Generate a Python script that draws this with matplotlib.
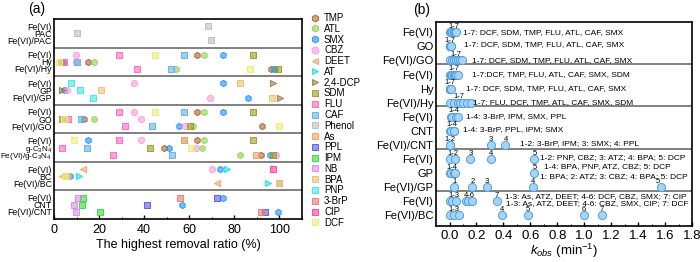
import matplotlib
matplotlib.use("Agg")
import matplotlib.pyplot as plt
from matplotlib.lines import Line2D
from matplotlib.colors import to_rgba

plt.rcParams['font.family'] = ['Liberation Sans', 'DejaVu Sans']
plt.rcParams['mathtext.fontset'] = 'custom'
plt.rcParams['mathtext.rm'] = 'Liberation Sans'
plt.rcParams['mathtext.it'] = 'Liberation Sans:italic'

# ---------------- panel (a) data ----------------
groups_a = ["PAC", "Hy", "GP", "GO", "g-C$_3$N$_4$", "BC", "CNT"]
# rows: index = group*3 + k (k: 0 Fe(VI), 1 support, 2 Fe(VI)/support)
tmp = [(3, 63.3), (4, 15.0), (5, 96.3), (9, 63.3), (10, 13.2), (11, 92.3),
       (12, 63.3), (13, 48.6), (14, 91.9)]
atl = [(3, 66.5), (4, 17.9), (5, 54.0), (5, 98.0), (9, 66.5), (10, 17.9), (11, 61.5),
       (12, 66.4), (13, 65.8), (14, 82.4)]
smx = [(3, 74.8), (4, 4.0), (5, 97.6), (6, 74.8), (7, 4.4), (8, 86.2), (9, 74.8),
       (11, 55.5), (12, 15.1), (13, 50.8), (14, 96.0), (15, 73.6), (16, 7.1),
       (18, 74.8), (19, 57.0), (20, 99.4)]
cbz = [(3, 9.8), (4, 9.8), (6, 35.7), (7, 5.9), (8, 69.3), (9, 35.7), (10, 38.4),
       (11, 57.9), (12, 38.4), (13, 63.0), (14, 98.4), (15, 70.2)]
deet = [(15, 13.0), (16, 3.4), (17, 72.1)]
at = [(15, 76.7), (16, 11.3), (17, 95.0)]
dcp = [(6, 97.0), (7, 3.4), (8, 100.3)]
sdm = [(3, 88.4), (4, 3.0), (5, 99.2), (9, 88.4), (10, 3.4), (11, 60.5),
       (12, 88.4), (13, 42.8), (14, 97.3)]
flu = [(3, 29.0), (4, 4.4), (5, 36.9), (9, 29.0), (10, 6.2), (11, 31.7),
       (12, 29.0), (13, 3.7), (14, 26.4)]
caf = [(3, 57.8), (4, 10.1), (5, 52.0), (9, 57.8), (10, 12.0), (11, 43.3),
       (13, 14.7), (14, 52.4)]
phenol = [(0, 68.3), (1, 10.4), (2, 69.8), (12, 57.8), (17, 99.6)]
arsenic = [(12, 57.8), (14, 89.8)]
ppl = [(18, 72.3), (19, 41.2), (20, 93.5)]
ipm = [(18, 12.9), (19, 12.3), (20, 20.4)]
nb = [(18, 10.7), (19, 9.0), (20, 9.6)]
bpa = [(6, 82.4), (7, 20.9), (8, 96.9), (16, 5.9), (17, 99.6)]
pnp = [(6, 7.7), (7, 11.4), (8, 17.2)]
brp = [(18, 55.8), (20, 91.8)]
cip = [(15, 97.0)]
dcf = [(3, 44.7), (4, 2.2), (5, 87.0), (9, 44.7), (10, 4.6), (11, 100.0),
       (12, 8.9), (13, 60.7), (16, 4.9)]

pollutants = [
    ("TMP", tmp, "h", "#b0602a"),
    ("ATL", atl, "h", "#8fd14f"),
    ("SMX", smx, "h", "#1e90ff"),
    ("CBZ", cbz, "o", "#ff9ad8"),
    ("DEET", deet, "<", "#f4a460"),
    ("AT", at, ">", "#10e0ee"),
    ("2,4-DCP", dcp, ">", "#a07840"),
    ("SDM", sdm, "s", "#9a9a22"),
    ("FLU", flu, "s", "#ff66bb"),
    ("CAF", caf, "s", "#5cb0ee"),
    ("Phenol", phenol, "s", "#bdbdbd"),
    ("As", arsenic, "s", "#f0a060"),
    ("PPL", ppl, "s", "#5656e6"),
    ("IPM", ipm, "s", "#36d836"),
    ("NB", nb, "s", "#dd88ee"),
    ("BPA", bpa, "s", "#e8c070"),
    ("PNP", pnp, "s", "#40e4e4"),
    ("3-BrP", brp, "s", "#f07474"),
    ("CIP", cip, "s", "#ff3d9a"),
    ("DCF", dcf, "s", "#ecec70"),
]

# ---------------- panel (b) data ----------------
rows_b = ["Fe(VI)", "GO", "Fe(VI)/GO", "Fe(VI)", "Hy", "Fe(VI)/Hy",
          "Fe(VI)", "CNT", "Fe(VI)/CNT", "Fe(VI)", "GP", "Fe(VI)/GP",
          "Fe(VI)", "Fe(VI)/BC"]
k_rows = [
    [0.0, 0.01, 0.02, 0.03, 0.03, 0.04, 0.05],
    [0.0, 0.0, 0.0, 0.005, 0.005, 0.01, 0.01],
    [0.0, 0.02, 0.03, 0.05, 0.06, 0.08, 0.09],
    [0.0, 0.01, 0.02, 0.03, 0.04, 0.05, 0.06],
    [0.0, 0.0, 0.0, 0.0, 0.005, 0.005, 0.01],
    [0.0, 0.03, 0.06, 0.08, 0.10, 0.13, 0.16],
    [0.01, 0.02, 0.05, 0.06],
    [0.0, 0.01, 0.03, 0.035],
    [0.0, 0.005, 0.31, 0.41],
    [0.0, 0.04, 0.155, 0.31, 0.63],
    [0.0, 0.01, 0.03, 0.04, 0.63],
    [0.035, 0.17, 0.28, 0.62, 1.57],
    [0.0, 0.02, 0.05, 0.12, 0.14, 0.17, 0.35],
    [0.0, 0.035, 0.07, 0.39, 0.585, 1.0, 1.13],
]
# number tags above markers: (row, x, text)
tags_b = [(0, 0.03, "1-7"), (1, 0.0, "1-7"), (2, 0.05, "1-7"),
          (3, 0.03, "1-7"), (4, 0.0, "1-7"), (5, 0.07, "1-7"),
          (6, 0.035, "1-4"), (7, 0.02, "1-4"), (8, 0.0, "1-2"), (8, 0.31, "3"), (8, 0.42, "4"),
          (9, 0.025, "1-2"), (9, 0.155, "3"), (9, 0.31, "4"), (9, 0.63, "5"),
          (10, 0.02, "1-4"), (10, 0.63, "5"),
          (11, 0.035, "1"), (11, 0.17, "2"), (11, 0.28, "3"), (11, 0.62, "4"), (11, 1.55, "5"),
          (12, 0.03, "1-3"), (12, 0.145, "4-6"), (12, 0.35, "7"),
          (13, 0.035, "1-3"), (13, 0.39, "4"), (13, 0.585, "5"), (13, 1.0, "6"), (13, 1.13, "7")]
notes_b = [
    (0, 0.10, 0.0, "1-7: DCF, SDM, TMP, FLU, ATL, CAF, SMX"),
    (1, 0.105, -0.1, "1-7: DCF, SDM, TMP, FLU, ATL, CAF, SMX"),
    (2, 0.165, 0.0, "1-7: DCF, SDM, TMP, FLU, ATL, CAF, SMX"),
    (3, 0.17, 0.0, "1-7:DCF, TMP, FLU, ATL, CAF, SMX, SDM"),
    (4, 0.12, 0.0, "1-7: DCF, SDM, TMP, FLU, ATL, CAF, SMX"),
    (5, 0.175, 0.0, "1-7: FLU, DCF, TMP, ATL, CAF, SMX, SDM"),
    (6, 0.12, 0.0, "1-4: 3-BrP, IPM, SMX, PPL"),
    (7, 0.10, -0.1, "1-4: 3-BrP, PPL, IPM; SMX"),
    (8, 0.52, -0.1, "1-2: 3-BrP, IPM; 3: SMX; 4: PPL"),
    (9, 0.67, -0.13, "1-2: PNP, CBZ; 3: ATZ; 4: BPA; 5: DCP"),
    (10, 0.70, -0.47, "1-4: BPA, PNP, ATZ, CBZ; 5: DCP"),
    (11, 0.67, -0.75, "1: BPA; 2: ATZ; 3: CBZ; 4: BPA; 5: DCP"),
    (12, 0.41, -0.37, "1-3: As, ATZ, DEET; 4-6: DCF, CBZ, SMX; 7: CIP"),
    (13, 0.42, -0.87, "1-3: As, ATZ, DEET; 4-6: CBZ, SMX, CIP; 7: DCF"),
]

fig = plt.figure(figsize=(7, 2.62), dpi=100)

# ---------------- panel (a) ----------------
ax1 = fig.add_axes([0.0771, 0.1641, 0.3543, 0.7634])
for name, pts, mk, col in pollutants:
    ys = [(r // 3) * 4 + r % 3 + 1 for r, v in pts]
    xs = [v for r, v in pts]
    ax1.scatter(xs, ys, s=20, marker=mk, facecolor=to_rgba(col, 0.6),
                edgecolor=to_rgba(col, 0.9), linewidth=0.7, zorder=3)

for g in range(1, 7):
    ax1.axhline(g * 4, color="#808080", lw=1.4, zorder=1)

ylabels_a = []
yticks_a = []
for i, g in enumerate(groups_a):
    for k, lab in enumerate(["Fe(VI)", g, "Fe(VI)/" + g]):
        yticks_a.append(i * 4 + k + 1)
        ylabels_a.append(lab)
ax1.set_yticks(yticks_a)
ax1.set_yticklabels(ylabels_a, fontsize=6.3)
for t in ax1.get_yticklabels():
    if "C$_3$" in t.get_text():
        t.set_fontsize(5.8)
ax1.tick_params(axis="y", length=0, pad=1.5)
ax1.set_ylim(28, 0)
ax1.set_xlim(0, 110)
ax1.set_xticks(range(0, 101, 20))
ax1.set_xticks(range(10, 111, 20), minor=True)
ax1.tick_params(axis="x", direction="in", labelsize=9, length=3, width=1)
ax1.tick_params(axis="x", which="minor", direction="in", length=1.5, width=0.8)
ax1.set_xlabel("The highest removal ratio (%)", fontsize=9, labelpad=2)
for s in ax1.spines.values():
    s.set_linewidth(1.2)
fig.text(0.052, 0.965, "(a)", fontsize=10, ha="center", va="center")

handles = [Line2D([], [], linestyle="none", marker=mk, markersize=5,
                  markerfacecolor=to_rgba(col, 0.6), markeredgecolor=to_rgba(col, 0.9),
                  markeredgewidth=0.7)
           for name, pts, mk, col in pollutants]
ax1.legend(handles, [p[0] for p in pollutants], loc="upper left",
           bbox_to_anchor=(1.03, 1.035), frameon=False, fontsize=7,
           labelspacing=0.08, handlelength=1.0, handletextpad=0.4, borderaxespad=0,
           borderpad=0.1)

# ---------------- panel (b) ----------------
ax2 = fig.add_axes([0.6229, 0.1374, 0.3657, 0.7798])
ypos_b = [(i // 3) * 3 + i % 3 + 0.75 for i in range(len(rows_b))]
for i, ks in enumerate(k_rows):
    ax2.scatter(ks, [ypos_b[i]] * len(ks), s=34, facecolor="#a6d4f7",
                edgecolor="#4f9fe0", linewidth=0.7, zorder=3)
for r, x, t in tags_b:
    ax2.text(x, ypos_b[r] - 0.42, t, fontsize=5.5, ha="center", va="center")
for r, x, dy, t in notes_b:
    ax2.text(x, ypos_b[r] + dy, t, fontsize=6, ha="left", va="center")
for g in range(1, 5):
    ax2.axhline(g * 3, color="#808080", lw=1.4, zorder=1)
ax2.set_yticks(ypos_b)
ax2.set_yticklabels(rows_b, fontsize=8)
ax2.tick_params(axis="y", length=0, pad=2)
ax2.set_ylim(14.5, 0)
ax2.set_xlim(-0.1, 1.8)
ax2.set_xticks([0.0, 0.2, 0.4, 0.6, 0.8, 1.0, 1.2, 1.4, 1.6, 1.8])
ax2.set_xticklabels(["0.0", "0.2", "0.4", "0.6", "0.8", "1.0", "1.2", "1.4", "1.6", "1.8"])
ax2.set_xticks([0.1, 0.3, 0.5, 0.7, 0.9, 1.1, 1.3, 1.5, 1.7], minor=True)
ax2.tick_params(axis="x", direction="in", labelsize=9.5, length=3, width=1, pad=3)
ax2.tick_params(axis="x", which="minor", direction="in", length=1.5, width=0.8)
ax2.set_xlabel("$k_{obs}$ (min$^{-1}$)", fontsize=9.5, labelpad=0)
for s in ax2.spines.values():
    s.set_linewidth(1.2)
fig.text(0.603, 0.96, "(b)", fontsize=10, ha="center", va="center")

fig.savefig("out.png", dpi=100)
